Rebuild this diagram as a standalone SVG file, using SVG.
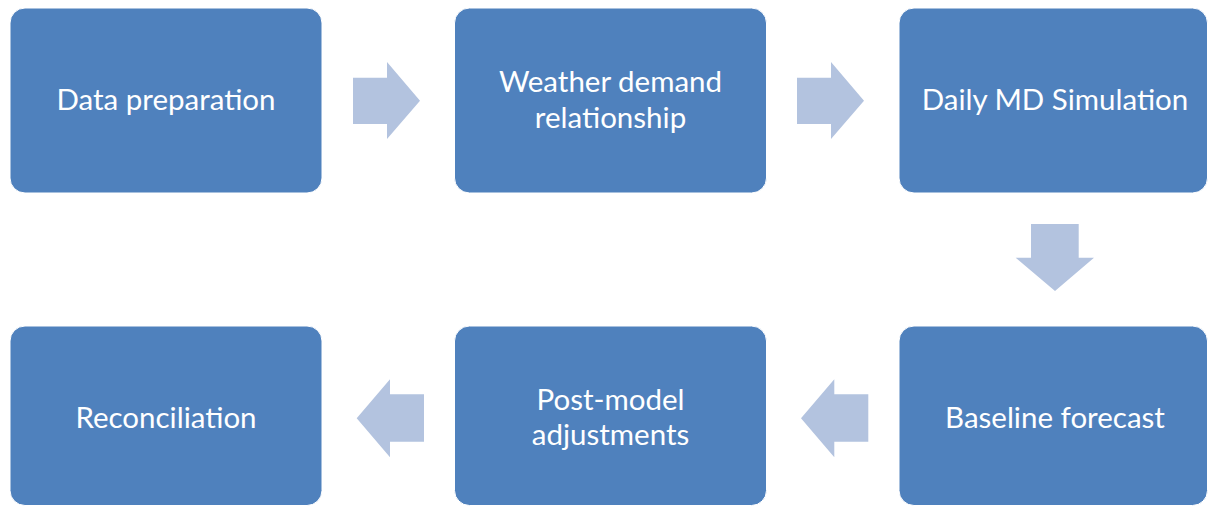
<svg xmlns="http://www.w3.org/2000/svg" width="1208" height="506" viewBox="0 0 1208 506">
<style>
.box{fill:#4F81BD;stroke:#FFFFFF;stroke-width:1}
.lbl{font-family:Lato,"Liberation Sans",sans-serif;font-size:29.5px;fill:#FFFFFF;text-anchor:middle}
.arr{fill:#B3C3DF}
</style>
<rect width="1208" height="506" fill="#FFFFFF"/>
<g id="connectors">
<polygon class="arr" points="353,77.7 387,77.7 387,62 420,100.7 387,139 387,124 353,124"/>
<polygon class="arr" points="797,77.7 831,77.7 831,62 864,100.7 831,139 831,124 797,124"/>
<polygon class="arr" points="1031,224 1078.7,224 1078.7,257.7 1094,257.7 1055,291 1015.7,257.7 1031,257.7"/>
<polygon class="arr" points="868.3,394.3 834.3,394.3 834.3,379.3 801,418.3 834.3,457.3 834.3,441.7 868.3,441.7"/>
<polygon class="arr" points="424,394.3 390,394.3 390,379.3 356.7,418.3 390,457.3 390,441.7 424,441.7"/>
</g>
<g id="n1"><rect class="box" x="10" y="8" width="312" height="185" rx="15"/><text class="lbl" x="166" y="110">Data preparation</text></g>
<g id="n2"><rect class="box" x="454.5" y="8" width="312" height="185" rx="15"/><text class="lbl" x="610.5" y="92">Weather demand</text><text class="lbl" x="610.5" y="128">relationship</text></g>
<g id="n3"><rect class="box" x="899" y="8" width="308.5" height="185" rx="15"/><text class="lbl" x="1055" y="110">Daily MD Simulation</text></g>
<g id="n4"><rect class="box" x="899" y="326" width="308.5" height="179.5" rx="15"/><text class="lbl" x="1055" y="428">Baseline forecast</text></g>
<g id="n5"><rect class="box" x="454.5" y="326" width="312" height="179.5" rx="15"/><text class="lbl" x="610.5" y="410">Post-model</text><text class="lbl" x="610.5" y="445">adjustments</text></g>
<g id="n6"><rect class="box" x="10" y="326" width="312" height="179.5" rx="15"/><text class="lbl" x="166" y="428">Reconciliation</text></g>
</svg>
